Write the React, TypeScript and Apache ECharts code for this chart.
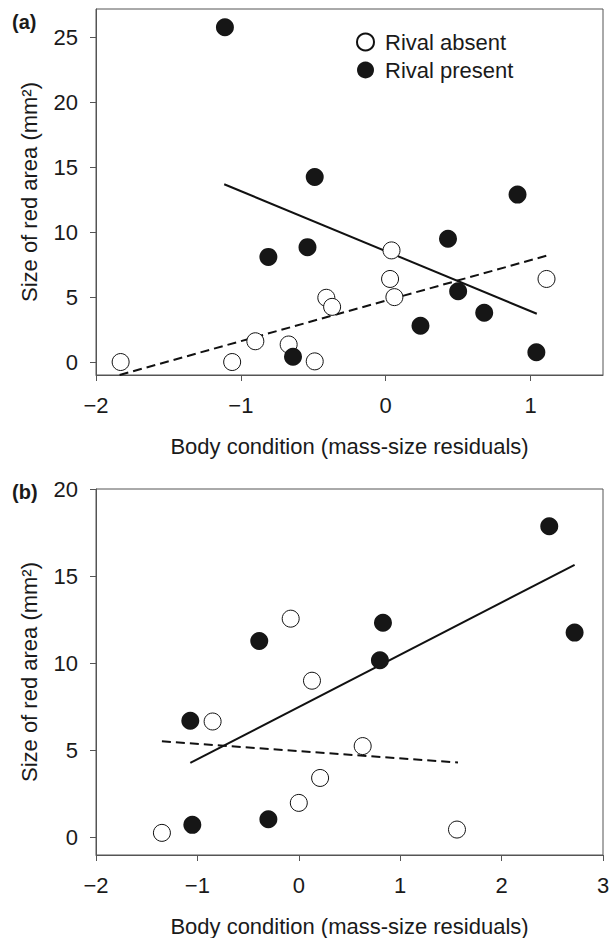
import React, { useEffect, useRef } from "react";
import * as echarts from "echarts";

// Panel (a)
const absentAX = [-1.83, -1.06, -0.9, -0.67, -0.49, -0.41, -0.37, 0.03, 0.04, 0.06, 1.11];
const absentAY = [0.0, 0.0, 1.6, 1.35, 0.05, 4.95, 4.25, 6.4, 8.6, 5.0, 6.4];
const presentAX = [-1.11, -0.81, -0.64, -0.54, -0.49, 0.24, 0.43, 0.5, 0.68, 0.91, 1.04];
const presentAY = [25.8, 8.1, 0.4, 8.85, 14.25, 2.8, 9.5, 5.45, 3.8, 12.9, 0.75];
const fitAbsentA = [[-1.837, -1.0], [1.11, 8.19]];
const fitPresentA = [[-1.115, 13.7], [1.043, 3.72]];

// Panel (b)
const absentBX = [-1.35, -0.85, -0.08, 0.0, 0.13, 0.21, 0.63, 1.56];
const absentBY = [0.27, 6.66, 12.56, 1.99, 9.0, 3.42, 5.25, 0.46];
const presentBX = [-1.07, -1.05, -0.39, -0.3, 0.8, 0.83, 2.47, 2.72];
const presentBY = [6.7, 0.73, 11.28, 1.05, 10.17, 12.33, 17.86, 11.76];
const fitAbsentB = [[-1.35, 5.52], [1.57, 4.31]];
const fitPresentB = [[-1.07, 4.28], [2.72, 15.65]];

// Ticks
const xTicksA = [-2, -1, 0, 1];
const yTicksA = [0, 5, 10, 15, 20, 25];
const xTicksB = [-2, -1, 0, 1, 2, 3];
const yTicksB = [0, 5, 10, 15, 20];

const xTitle = "Body condition (mass-size residuals)";
const yTitle = "Size of red area (mm²)";
const absentName = "Rival absent";
const presentName = "Rival present";

const FONT = "Liberation Sans, Arial, Helvetica, sans-serif";
const TXT = "#1a1a1a";
const FRAME = "#555555";

const zip = (xs: number[], ys: number[]) => xs.map((x, i) => [x, ys[i]]);
const fmt = (v: number) => (v < 0 ? "\u2212" + Math.abs(v) : String(v));

function xAxisCfg(gridIndex: number, min: number, max: number, ticks: number[]) {
  return {
    type: "value",
    gridIndex,
    min,
    max,
    name: xTitle,
    nameLocation: "middle",
    nameGap: 60,
    nameTextStyle: { fontFamily: FONT, fontSize: 22, color: TXT },
    axisLine: { show: true, onZero: false, lineStyle: { color: FRAME, width: 1 } },
    axisTick: { show: true, inside: false, length: 6, customValues: ticks, lineStyle: { color: FRAME } },
    axisLabel: {
      customValues: ticks,
      formatter: fmt,
      margin: 19,
      fontFamily: FONT,
      fontSize: 22,
      color: TXT,
    },
    splitLine: { show: false },
  };
}

function yAxisCfg(gridIndex: number, min: number, max: number, ticks: number[]) {
  return {
    type: "value",
    gridIndex,
    min,
    max,
    name: yTitle,
    nameLocation: "middle",
    nameGap: 56,
    nameTextStyle: { fontFamily: FONT, fontSize: 22, color: TXT },
    axisLine: { show: true, onZero: false, lineStyle: { color: FRAME, width: 1 } },
    axisTick: { show: true, inside: false, length: 6, customValues: ticks, lineStyle: { color: FRAME } },
    axisLabel: {
      customValues: ticks,
      formatter: fmt,
      margin: 18,
      fontFamily: FONT,
      fontSize: 22,
      color: TXT,
    },
    splitLine: { show: false },
  };
}

function fitSeries(name: string, idx: number, data: number[][], dashed: boolean) {
  return {
    name,
    type: "line",
    xAxisIndex: idx,
    yAxisIndex: idx,
    data,
    symbol: "none",
    z: 1,
    lineStyle: { color: "#111111", width: 2, opacity: 1, type: dashed ? [9, 5] : "solid" },
  };
}

function absentSeries(idx: number, data: number[][]) {
  return {
    name: absentName,
    type: "scatter",
    xAxisIndex: idx,
    yAxisIndex: idx,
    data,
    symbol: "circle",
    symbolSize: 17,
    z: 2,
    itemStyle: { color: "#ffffff", borderColor: "#111111", borderWidth: 1, opacity: 1 },
  };
}

function presentSeries(idx: number, data: number[][]) {
  return {
    name: presentName,
    type: "scatter",
    xAxisIndex: idx,
    yAxisIndex: idx,
    data,
    symbol: "circle",
    symbolSize: 18,
    z: 3,
    itemStyle: { color: "#161616", borderColor: "#161616", borderWidth: 0, opacity: 1 },
  };
}

export default function App() {
  const ref = useRef<HTMLDivElement>(null);
  useEffect(() => {
    if (!ref.current) return;
    const chart = echarts.init(ref.current, undefined, { renderer: "svg" });
    chart.setOption({
      animation: false,
      backgroundColor: "#ffffff",
      textStyle: { fontFamily: FONT },
      grid: [
        { left: 96, top: 9, width: 507, height: 366, show: true, borderColor: FRAME, borderWidth: 1, backgroundColor: "transparent" },
        { left: 96, top: 489, width: 507, height: 368, show: true, borderColor: FRAME, borderWidth: 1, backgroundColor: "transparent" },
      ],
      xAxis: [xAxisCfg(0, -2, 1.5, xTicksA), xAxisCfg(1, -2, 3, xTicksB)],
      yAxis: [yAxisCfg(0, -1, 27.2, yTicksA), yAxisCfg(1, -1, 20, yTicksB)],
      legend: {
        data: [absentName, presentName],
        orient: "vertical",
        left: 356,
        top: 31,
        padding: 0,
        itemWidth: 17,
        itemHeight: 17,
        itemGap: 6,
        icon: "circle",
        selectedMode: false,
        textStyle: { fontFamily: FONT, fontSize: 22, color: TXT, padding: [0, 0, 0, 6] },
      },
      graphic: [
        { type: "text", left: 12, top: 12, style: { text: "(a)", font: "bold 20px " + FONT, fill: TXT } },
        { type: "text", left: 12, top: 482, style: { text: "(b)", font: "bold 20px " + FONT, fill: TXT } },
      ],
      series: [
        fitSeries("Fit rival absent (a)", 0, fitAbsentA, true),
        fitSeries("Fit rival present (a)", 0, fitPresentA, false),
        absentSeries(0, zip(absentAX, absentAY)),
        presentSeries(0, zip(presentAX, presentAY)),
        fitSeries("Fit rival absent (b)", 1, fitAbsentB, true),
        fitSeries("Fit rival present (b)", 1, fitPresentB, false),
        absentSeries(1, zip(absentBX, absentBY)),
        presentSeries(1, zip(presentBX, presentBY)),
      ],
    });
    return () => chart.dispose();
  }, []);
  return (
    <div
      ref={ref}
      style={{ position: "absolute", left: 0, top: 0, width: 613, height: 938, background: "#fff" }}
    />
  );
}
